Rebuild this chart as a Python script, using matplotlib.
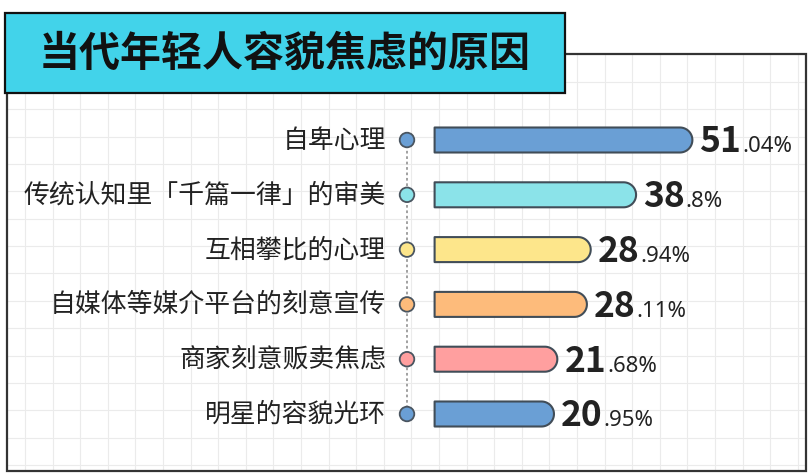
import numpy as np
import matplotlib
matplotlib.use("Agg")
import matplotlib.pyplot as plt
from matplotlib.patches import Rectangle, PathPatch
from matplotlib.path import Path
from matplotlib.transforms import blended_transform_factory, IdentityTransform

plt.rcParams['font.family'] = ['Noto Sans CJK SC', 'DejaVu Sans']

title = "当代年轻人容貌焦虑的原因"
categories = ["自卑心理", "传统认知里「千篇一律」的审美", "互相攀比的心理",
              "自媒体等媒介平台的刻意宣传", "商家刻意贩卖焦虑", "明星的容貌光环"]
values = [51.04, 38.8, 28.94, 28.11, 21.68, 20.95]
int_parts = ["51", "38", "28", "28", "21", "20"]
dec_parts = [".04%", ".8%", ".94%", ".11%", ".68%", ".95%"]
colors = ["#6A9FD5", "#8BE3E9", "#FDE68B", "#FDBB7B", "#FF9F9F", "#6A9FD5"]

W, H = 811, 474
fig = plt.figure(figsize=(W / 100, H / 100), dpi=100)
fig.patch.set_facecolor("white")

# ---------- background layer (pixel coordinates) ----------
bg = fig.add_axes([0, 0, 1, 1])
bg.set_xlim(0, W)
bg.set_ylim(H, 0)
bg.axis("off")

fx0, fy0, fx1, fy1 = 7, 54, 806, 471
clip = Rectangle((fx0, fy0), fx1 - fx0, fy1 - fy0, transform=bg.transData)
for gx in np.arange(25, fx1, 27.6):
    l = bg.plot([gx, gx], [fy0, fy1], color="#ebebeb", lw=0.8, zorder=0)[0]
    l.set_clip_path(clip)
for gy in np.arange(81.7, fy1, 27.4):
    l = bg.plot([fx0, fx1], [gy, gy], color="#ebebeb", lw=0.8, zorder=0)[0]
    l.set_clip_path(clip)
bg.add_patch(Rectangle((fx0, fy0), fx1 - fx0, fy1 - fy0, fill=False,
                       edgecolor="#333333", lw=1.6, zorder=1))
bg.add_patch(Rectangle((5, 13), 560, 80, facecolor="#42D3EA",
                       edgecolor="#111111", lw=1.6, zorder=2))
bg.text(285, 54, title, ha="center", va="center", fontsize=29.5,
        fontweight="black", color="#111111", zorder=3)

# ---------- data layer ----------
px_per_unit = 4.6
zero_px = 457.6
row0_px, row_step = 140.0, 54.8
ax = fig.add_axes([0, 0, 1, 1])
ax.patch.set_alpha(0)
ax.axis("off")
ax.set_xlim((0 - zero_px) / px_per_unit, (W - zero_px) / px_per_unit)
ax.set_ylim((H - row0_px) / row_step, (0 - row0_px) / row_step)

bar_base = -5.0
bar_h = 25 / row_step
rx = 12.5 / px_per_unit
ry = bar_h / 2
dot_x = (407 - zero_px) / px_per_unit
label_x = (386 - zero_px) / px_per_unit

n = len(values)
ys = np.arange(n)
ax.plot([dot_x, dot_x], [ys[0], ys[-1]], color="#9a9a9a", lw=1.3,
        ls=(0, (1.5, 1.5)), zorder=1)
ax.scatter([dot_x] * n, ys, s=110, c=colors, edgecolors="#4a5560",
           linewidths=1.3, zorder=3)

fig.canvas.draw()
renderer = fig.canvas.get_renderer()
tr = blended_transform_factory(IdentityTransform(), ax.transData)
for i, (v, c) in enumerate(zip(values, colors)):
    y = ys[i]
    cx = v - rx
    theta = np.linspace(np.pi / 2, -np.pi / 2, 40)
    arc = np.column_stack([cx + rx * np.cos(theta), y - ry * np.sin(theta)])
    verts = np.vstack([[bar_base, y - ry], arc, [bar_base, y + ry], [bar_base, y - ry]])
    codes = [Path.MOVETO] + [Path.LINETO] * (len(verts) - 2) + [Path.CLOSEPOLY]
    ax.add_patch(PathPatch(Path(verts, codes), facecolor=c, edgecolor="#414d58",
                           lw=1.5, zorder=2, joinstyle="round"))
    ax.text(label_x, y, categories[i], ha="right", va="center", fontsize=18.6,
            color="#222222")
    base_y = y + 12.5 / row_step
    t = ax.text(v + 7 / px_per_unit, base_y, int_parts[i], ha="left",
                va="baseline", fontsize=25.5, fontweight="bold", color="#222222")
    bb = t.get_window_extent(renderer)
    ax.text(bb.x1 + 1, base_y, dec_parts[i], ha="left", va="baseline",
            fontsize=16, color="#222222", transform=tr,
            family=["Noto Sans", "DejaVu Sans"])

fig.savefig("out.png", dpi=100, facecolor="white")
